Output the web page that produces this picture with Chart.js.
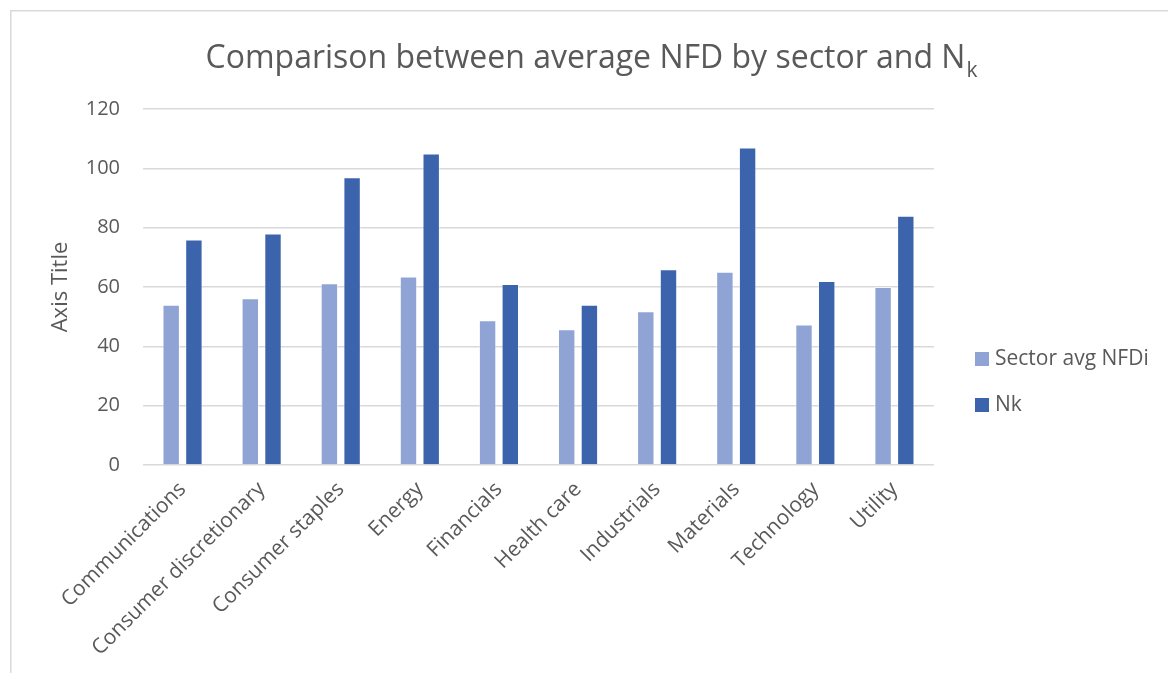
<!DOCTYPE html>
<html>
<head>
<meta charset="utf-8">
<title>Comparison between average NFD by sector and Nk</title>
<script src="https://cdn.jsdelivr.net/npm/chart.js@4.4.1/dist/chart.umd.min.js"></script>
<style>
  html, body { margin: 0; padding: 0; background: #ffffff; }
  #wrap { position: relative; width: 1168px; height: 673px; }
  canvas { display: block; }
</style>
</head>
<body>
<div id="wrap"><canvas id="chart" width="1168" height="673"></canvas></div>
<script>
// Sector categories
const sectors = [
  'Communications', 'Consumer discretionary', 'Consumer staples', 'Energy',
  'Financials', 'Health care', 'Industrials', 'Materials', 'Technology', 'Utility'
];

// Average NFDi per sector
const sectorAvgNFDi = [54.0, 56.2, 61.3, 63.5, 48.8, 45.8, 51.8, 65.1, 47.4, 60.0];

// Nk per sector
const nk = [76, 78, 97, 105, 61, 54, 66, 107, 62, 84];

// Value axis ticks
const yTicks = [0, 20, 40, 60, 80, 100, 120];

const seriesNames = ['Sector avg NFDi', 'Nk'];
const titleMain = 'Comparison between average NFD by sector and N';
const titleSub = 'k';
const axisTitle = 'Axis Title';

const FONT = "'Open Sans', 'DejaVu Sans', sans-serif";
const TEXT = '#595959';
const GRID = '#d9d9d9';

// Thin frame around the whole chart
const framePlugin = {
  id: 'frame',
  beforeDraw(chart) {
    const ctx = chart.ctx;
    ctx.save();
    ctx.strokeStyle = GRID;
    ctx.lineWidth = 1.5;
    ctx.strokeRect(10.75, 10.75, 2000, 2000);
    ctx.restore();
  }
};

// Title with subscript k
const titlePlugin = {
  id: 'subTitle',
  afterDraw(chart) {
    const ctx = chart.ctx;
    ctx.save();
    ctx.fillStyle = TEXT;
    ctx.textBaseline = 'alphabetic';
    ctx.font = `32px ${FONT}`;
    const w1 = ctx.measureText(titleMain).width;
    ctx.font = `21px ${FONT}`;
    const w2 = ctx.measureText(titleSub).width;
    const cx = 591;
    const x0 = cx - (w1 + w2) / 2;
    const base = 68;
    ctx.font = `32px ${FONT}`;
    ctx.textAlign = 'left';
    ctx.fillText(titleMain, x0, base);
    ctx.font = `21px ${FONT}`;
    ctx.fillText(titleSub, x0 + w1 + 1, base + 9);
    ctx.restore();
  }
};

// Legend on the right
const legendPlugin = {
  id: 'sideLegend',
  afterDraw(chart) {
    const ctx = chart.ctx;
    ctx.save();
    ctx.font = `21px ${FONT}`;
    ctx.textBaseline = 'middle';
    ctx.textAlign = 'left';
    chart.data.datasets.forEach((ds, i) => {
      const y = 359 + i * 46;
      ctx.fillStyle = ds.backgroundColor;
      ctx.fillRect(975, y - 7, 14, 14);
      ctx.fillStyle = TEXT;
      ctx.fillText(ds.label, 995, y);
    });
    ctx.restore();
  }
};

new Chart(document.getElementById('chart'), {
  type: 'bar',
  data: {
    labels: sectors,
    datasets: [
      {
        label: seriesNames[0],
        data: sectorAvgNFDi,
        backgroundColor: '#8FA4D4',
        borderColor: 'rgba(255,255,255,0.45)',
        borderWidth: 1
      },
      {
        label: seriesNames[1],
        data: nk,
        backgroundColor: '#3C64AD',
        borderColor: 'rgba(255,255,255,0.35)',
        borderWidth: 1
      }
    ]
  },
  options: {
    responsive: false,
    animation: false,
    devicePixelRatio: 1,
    datasets: {
      bar: { categoryPercentage: 0.574, barPercentage: 0.767 }
    },
    layout: { padding: { left: 40, top: 109, right: 234, bottom: 0 } },
    plugins: {
      legend: { display: false },
      title: { display: false },
      tooltip: { enabled: false }
    },
    scales: {
      x: {
        grid: { display: false, drawTicks: false },
        border: { display: false },
        ticks: {
          autoSkip: false,
          maxRotation: 45,
          minRotation: 45,
          padding: 12,
          color: TEXT,
          font: { family: FONT, size: 21 }
        },
        afterFit(scale) { scale.height = 208; }
      },
      y: {
        min: yTicks[0],
        max: yTicks[yTicks.length - 1],
        afterBuildTicks(scale) { scale.ticks = yTicks.map(v => ({ value: v })); },
        grid: { color: GRID, lineWidth: 1.5, drawTicks: false },
        border: { display: false },
        ticks: {
          padding: 23,
          color: TEXT,
          font: { family: FONT, size: 20 }
        },
        title: {
          display: true,
          text: axisTitle,
          color: TEXT,
          font: { family: FONT, size: 22 },
          padding: { top: 8, bottom: 0 }
        },
        afterFit(scale) { scale.width = 103; }
      }
    }
  },
  plugins: [framePlugin, titlePlugin, legendPlugin]
});
</script>
</body>
</html>
